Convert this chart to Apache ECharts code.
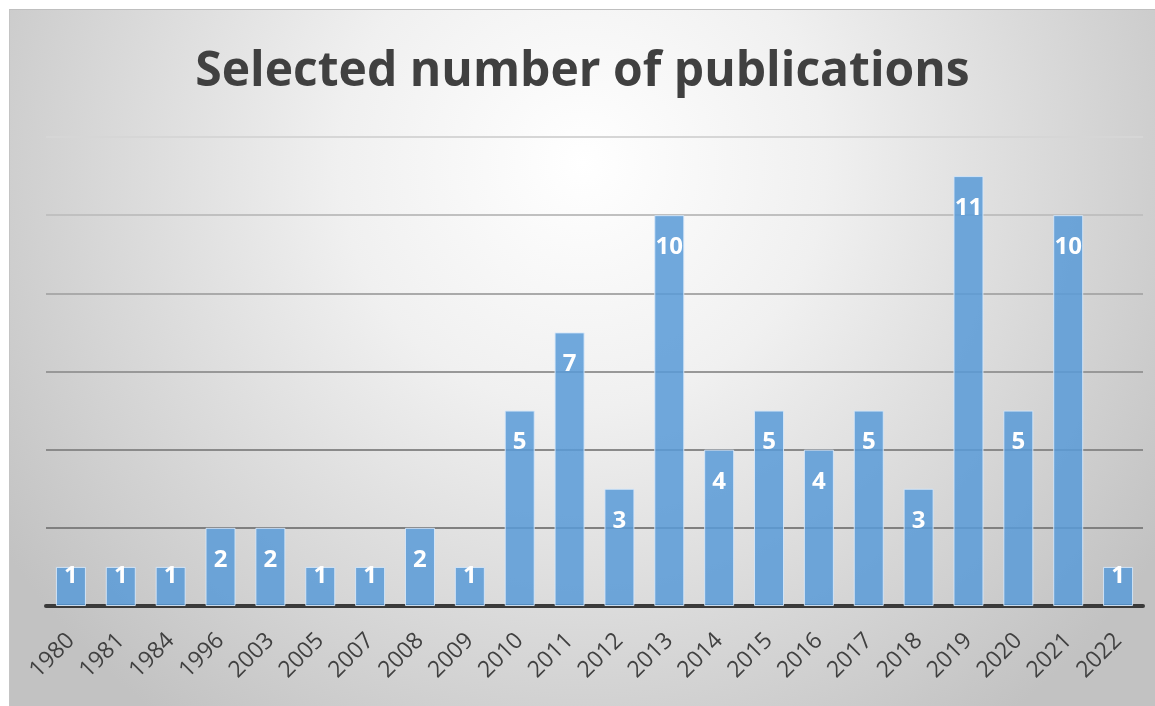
<!DOCTYPE html>
<html>
<head>
<meta charset="utf-8">
<script src="https://cdn.jsdelivr.net/npm/echarts@6/dist/echarts.min.js"></script>
<style>
html,body{margin:0;padding:0;background:#ffffff;width:1155px;height:706px;overflow:hidden;}
#chart{position:absolute;left:9px;top:9px;width:1146px;height:697px;box-sizing:border-box;border-top:1px solid #bfbfbf;border-left:1px solid #c4c4c4;}
</style>
</head>
<body>
<div id="chart"></div>
<script>
const titleText = 'Selected number of publications';
const years = ['1980','1981','1984','1996','2003','2005','2007','2008','2009','2010','2011','2012','2013','2014','2015','2016','2017','2018','2019','2020','2021','2022'];
const counts = [1,1,1,2,2,1,1,2,1,5,7,3,10,4,5,4,5,3,11,5,10,1];
const yTicks = [0,2,4,6,8,10,12];

const chart = echarts.init(document.getElementById('chart'), null, {renderer:'canvas'});
const FONT = '"Open Sans", Lato, sans-serif';
chart.setOption({
  animation:false,
  backgroundColor:{
    type:'radial', x:0.5, y:0.22, r:1.0,
    colorStops:[{offset:0,color:'#ffffff'},{offset:0.35,color:'#f0f0f0'},{offset:1,color:'#c2c2c2'}]
  },
  title:{
    text:titleText, left:'center', top:33,
    textStyle:{fontFamily:FONT, fontWeight:'bold', fontSize:48, color:'#404040'}
  },
  grid:{left:36, right:12, top:127, bottom:100, containLabel:false},
  xAxis:{
    type:'category', data:years,
    axisLine:{show:true, lineStyle:{color:'#3a3a3a', width:4}},
    axisTick:{show:false},
    axisLabel:{rotate:45, interval:0, margin:31, fontFamily:FONT, fontSize:23, color:'#404040'}
  },
  yAxis:{
    type:'value', min:yTicks[0], max:yTicks[yTicks.length-1], interval:2,
    axisLabel:{show:false}, axisLine:{show:false}, axisTick:{show:false},
    splitLine:{show:true, lineStyle:{width:2, color:['#7a7a7a','#808080','#8a8a8a','#989898','#aaaaaa','#c0c0c0','#d6d6d6']}}
  },
  series:[{
    type:'bar',
    data:counts.map(v => ({value:v, label:{distance: v === 1 ? -3 : 20}})),
    barWidth:30,
    itemStyle:{color:'rgba(90,155,215,0.86)', borderColor:'rgba(215,232,250,0.9)', borderWidth:1},
    label:{show:true, position:'insideTop', fontFamily:FONT, fontWeight:'bold', fontSize:24, lineHeight:24, color:'#ffffff'}
  }]
});
</script>
</body>
</html>
